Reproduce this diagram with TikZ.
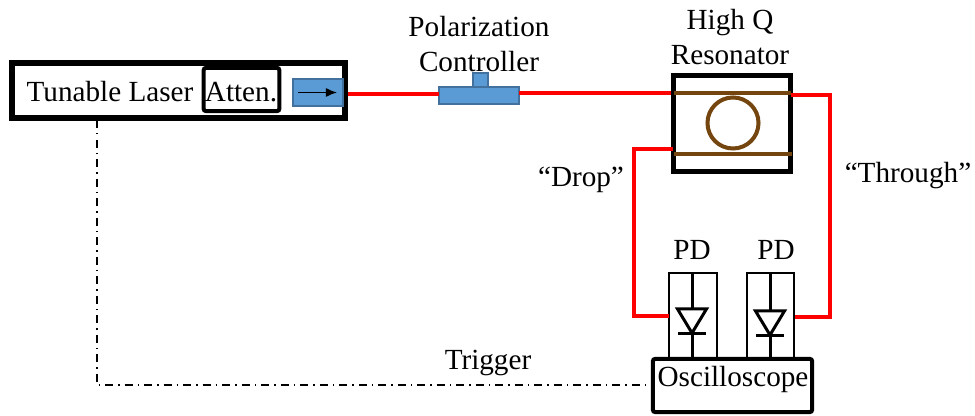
\documentclass[tikz,border=0pt]{standalone}
\usepackage{fontspec}
\setmainfont{Liberation Serif}
\usetikzlibrary{arrows.meta}
\definecolor{fibrered}{HTML}{FF0000}
\definecolor{ringbrown}{HTML}{74450F}
\definecolor{partblue}{HTML}{5B9BD5}
\definecolor{partedge}{HTML}{41719C}
\tikzset{
  label text/.style={inner sep=0pt,align=center,font=\fontsize{8.3}{9.8}\selectfont},
  frame/.style={draw,inner sep=0pt,outer sep=0pt,line width=#1},
  part/.style={draw=partedge,fill=partblue,inner sep=0pt,outer sep=0pt,line width=0.2mm},
  fibre/.style={draw=fibrered,line width=0.45mm},
  guide/.style={draw=ringbrown,line width=0.4mm},
  trigger line/.style={line width=0.13mm,dash pattern=on 0.08cm off 0.05cm on 0.015cm off 0.05cm},
}
\begin{document}
\begin{tikzpicture}[x=0.01cm,y=-0.01cm]
  \useasboundingbox (0,0) rectangle (975,416);
  \node[frame=0.6mm,minimum width=3.33cm,minimum height=0.55cm] (laser) at (178.5,90.5) {};
  \node[frame=0.4mm,minimum width=0.755cm,minimum height=0.43cm,rounded corners=0.2mm] (atten) at (241.5,89.5) {};
  \node[part,minimum width=0.5cm,minimum height=0.27cm] (isolator) at (318,92.5) {};
  \node[part,minimum width=0.15cm,minimum height=0.14cm] (knob) at (480.5,80) {};
  \node[part,minimum width=0.8cm,minimum height=0.17cm] (controller) at (479,95.5) {};
  \node[frame=0.55mm,minimum width=1.165cm,minimum height=0.955cm] (resonator) at (732,123.5) {};
  \node[draw=ringbrown,line width=0.4mm,circle,inner sep=0pt,minimum size=0.51cm] (ring) at (733,123) {};

  \coordinate (busin) at (674,93);
  \coordinate (busout) at (791,93);
  \coordinate (dropin) at (674,154);
  \coordinate (dropout) at (792,154);
  \draw[guide] (busin) -- (busout);
  \draw[guide] (dropin) -- (dropout);

  \draw[-{Latex[length=0.11cm,width=0.09cm]},line width=0.13mm] (298,92.5) -- (337,92.5);

  \node[frame=0.4mm,minimum width=1.59cm,minimum height=0.53cm,rounded corners=0.2mm] (scope) at (732.5,385.5) {};

  \foreach[count=\i] \x/\bx/\ty in {692/693/309,770/770.5/311} {
    \node[frame=0.2mm,minimum width=0.475cm,minimum height=0.85cm] (pd\i) at (\bx,315.5) {};
    \draw[line width=0.3mm] (\x,273) -- (\x,358);
    \draw[line width=0.3mm,fill=white] (\x-14.5,\ty) -- (\x+14.5,\ty) -- (\x,\ty+24) -- cycle;
    \draw[line width=0.3mm] (\x-14,\ty+25) -- (\x+14,\ty+25);
  }

  \coordinate (laserout) at (348,94);
  \coordinate (ctrlin) at (439,94);
  \coordinate (ctrlout) at (519,93);
  \coordinate (resin) at (671,93);
  \coordinate (resout) at (791,95);
  \coordinate (resdrop) at (673,149);
  \coordinate (pdin) at (669,316);
  \coordinate (pdout) at (795,317);
  \coordinate (lasertrig) at (97,120);
  \coordinate (scopetrig) at (652,385);
  \draw[fibre] (laserout) -- (ctrlin);
  \draw[fibre] (ctrlout) -- (resin);
  \draw[fibre] (resout) -- (830,95) -- (830,317) -- (pdout);
  \draw[fibre] (resdrop) -- (634,149) -- (634,316) -- (pdin);
  \draw[trigger line] (lasertrig) -- (97,385) -- (scopetrig);

  \node[label text] (lasertext) at (110,92) {Tunable Laser};
  \node[label text] (attentext) at (241,92) {Atten.};
  \node[label text] (controllertext) at (479,44) {Polarization\\Controller};
  \node[label text] (resonatortext) at (730,37) {High Q\\Resonator};
  \node[label text] (droptext) at (581,180) {“Drop”};
  \node[label text] (throughtext) at (908,176) {“Through”};
  \node[label text] (pdtext1) at (692,250) {PD};
  \node[label text] (pdtext2) at (776,250) {PD};
  \node[label text] (triggertext) at (488,363) {Trigger};
  \node[label text] (scopetext) at (733,379) {Oscilloscope};
\end{tikzpicture}
\end{document}
